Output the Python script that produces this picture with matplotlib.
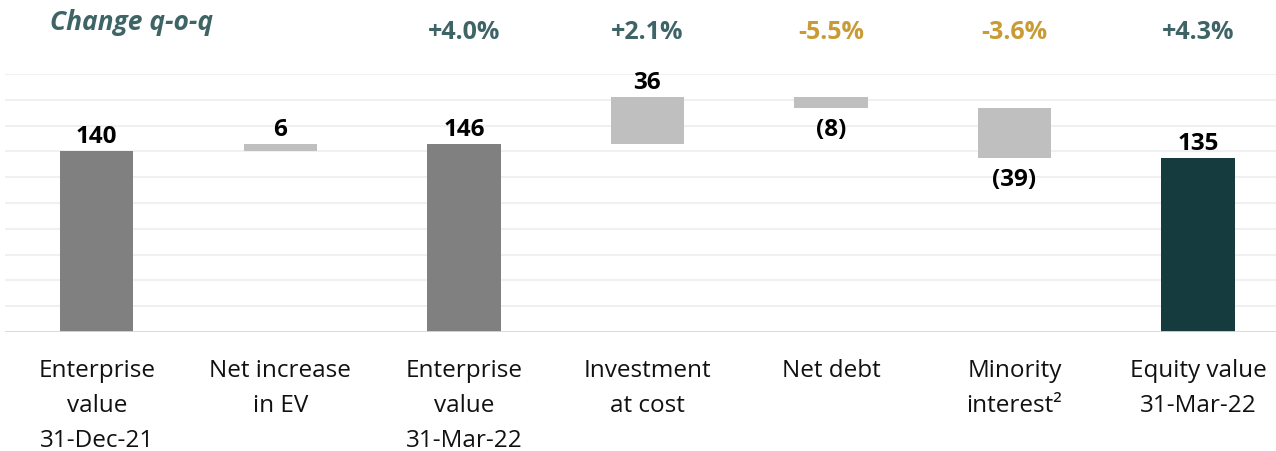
import numpy as np
import matplotlib.pyplot as plt

plt.rcParams['font.family'] = ['Open Sans', 'DejaVu Sans']

categories = ["Enterprise\nvalue\n31-Dec-21", "Net increase\nin EV", "Enterprise\nvalue\n31-Mar-22",
              "Investment\nat cost", "Net debt", "Minority\ninterest\u00b2", "Equity value\n31-Mar-22"]
values = [140, 6, 146, 36, -8, -39, 135]
is_total = [True, False, True, False, False, False, True]
pct_labels = ["", "", "+4.0%", "+2.1%", "-5.5%", "-3.6%", "+4.3%"]

TEAL = "#3e6466"
GOLD = "#c99b34"

# waterfall bottoms: totals start at zero, steps start from the running level
bottoms, heights = [], []
level = 0
for v, tot in zip(values, is_total):
    if tot:
        bottoms.append(0)
        heights.append(v)
        level = v
    else:
        bottoms.append(level if v >= 0 else level + v)
        heights.append(abs(v))
        level += v

colors = []
for i, tot in enumerate(is_total):
    if not tot:
        colors.append("#bfbfbf")
    elif i == len(values) - 1:
        colors.append("#153b3f")
    else:
        colors.append("#808080")

fig = plt.figure(figsize=(12.76, 4.51), dpi=100)
ax = fig.add_axes([5 / 1276, 1 - 332 / 451, 1 - 5 / 1276, (332 - 74) / 451])

x = np.arange(len(values))
ax.bar(x, heights, bottom=bottoms, width=0.4, color=colors, zorder=3)

ax.set_xlim(-0.5, 6.425)
ax.set_ylim(0, 200)
ax.set_yticks(np.arange(0, 201, 20))
ax.yaxis.grid(True, color="#f0f0f0", linewidth=1.5, zorder=0)
ax.axhline(0, color="#d9d9d9", linewidth=2, zorder=4)
for s in ax.spines.values():
    s.set_visible(False)
ax.tick_params(left=False, bottom=False, labelleft=False, labelbottom=False)

for i, v in enumerate(values):
    top = bottoms[i] + heights[i]
    if is_total[i] or v >= 0:
        ax.text(i, top + 1.5, f"{abs(v)}", ha="center", va="bottom",
                fontsize=17.5, fontweight="bold", color="black", zorder=5)
    else:
        ax.text(i, bottoms[i] - 8, f"({abs(v)})", ha="center", va="top",
                fontsize=17.5, fontweight="bold", color="black", zorder=5)
    ax.text(i, -21, categories[i], ha="center", va="top", fontsize=17.5,
            color="#111111", linespacing=1.6, clip_on=False)
    if pct_labels[i]:
        c = GOLD if pct_labels[i].startswith("-") else TEAL
        ax.text(i, 232, pct_labels[i], ha="center", va="center", fontsize=18,
                fontweight="bold", color=c, clip_on=False)

fig.text(50 / 1276, 1 - 22 / 451, "Change q-o-q", ha="left", va="center",
         fontsize=19, fontweight="bold", fontstyle="italic", color=TEAL)

fig.savefig("out.png", dpi=100)
